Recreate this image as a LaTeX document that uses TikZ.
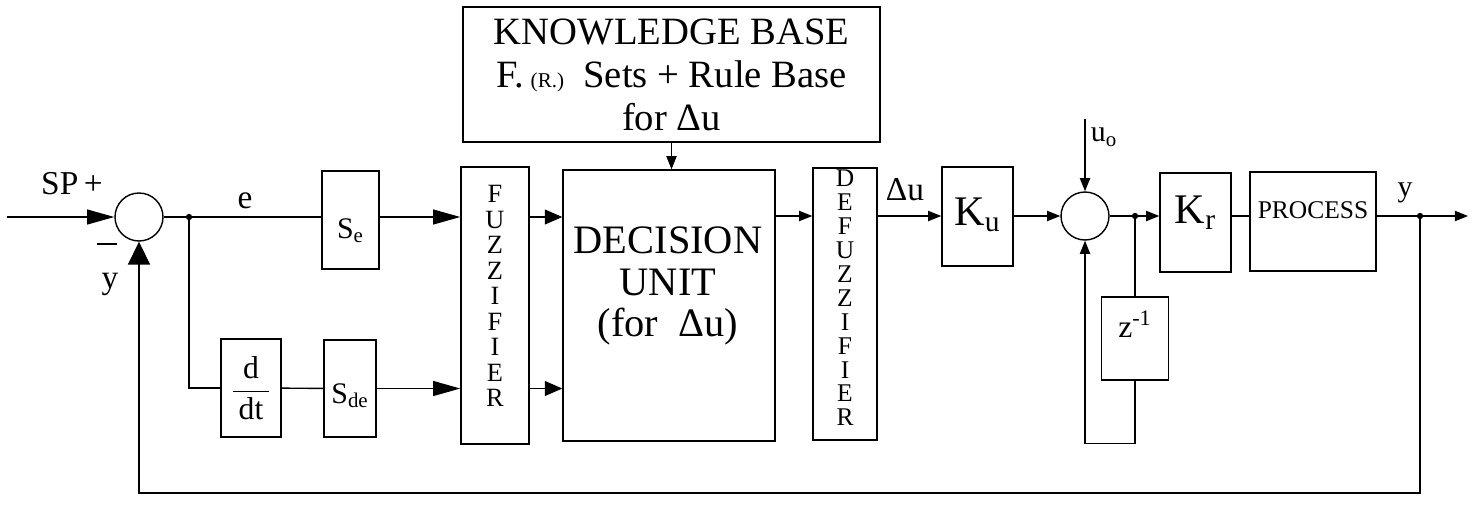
\documentclass[tikz,border=0pt]{standalone}
\usepackage{fontspec}
\setmainfont{Liberation Serif}
\usetikzlibrary{arrows.meta}

\begin{document}
\begin{tikzpicture}[x=0.02cm,y=-0.02cm,line width=0.8pt,
    blk/.style={draw,inner sep=0pt},
    sum/.style={draw,circle,minimum size=0.96cm,inner sep=0pt},
    bigtip/.style={-{Triangle[length=15.5pt,width=8.5pt]}},
    midtip/.style={-{Triangle[length=10pt,width=8.5pt]}},
    tip/.style={-{Triangle[length=7.5pt,width=5.8pt]}},
    fbtip/.style={-{Triangle[length=13pt,width=12.5pt]}},
    lbl/.style={font=\fontsize{19}{19}\selectfont},
    slbl/.style={font=\fontsize{17}{17}\selectfont}]
    \useasboundingbox (0,0) rectangle (1479,504);

    % controller blocks
    \node[sum] (sum1) at (139,217) {};
    \node[blk,minimum width=1.14cm,text height=1.34cm,text depth=0.62cm,font=\fontsize{17}{17}\selectfont] (se) at (350.5,220) {S\textsubscript{e}};
    \node[blk,minimum width=1.2cm,minimum height=1.96cm,font=\fontsize{18}{18}\selectfont] (ddt) at (251,388) {$\displaystyle\frac{\mbox{d}}{\mbox{\,dt\,}}$};
    \node[blk,minimum width=1.04cm,text height=1.26cm,text depth=0.68cm,font=\fontsize{17}{17}\selectfont] (sde) at (350,388.5) {S\textsubscript{de}};

    \node[blk,minimum width=1.36cm,minimum height=5.54cm] (fuzz) at (495,305.5) {};
    \node[font=\fontsize{15}{14.5}\selectfont,align=center] (fuzztxt) at (495,296) {F\\U\\Z\\Z\\I\\F\\I\\E\\R};

    \node[blk,minimum width=4.24cm,minimum height=5.42cm] (dec) at (669,305.5) {};
    \node[font=\fontsize{23}{23.8}\selectfont,align=center] (dectxt) at (668,286) {DECISION\\UNIT\\(for\enspace Δu)};

    \node[blk,minimum width=8.34cm,minimum height=2.7cm,align=center,font=\fontsize{22}{24.5}\selectfont] (kb) at (671.5,74.5)
        {KNOWLEDGE BASE\\F.\,{\fontsize{12}{12}\selectfont(R.)}\ \ Sets + Rule Base\\for Δu};

    \node[blk,minimum width=1.28cm,minimum height=5.44cm] (defuzz) at (845,304) {};
    \node[font=\fontsize{14.5}{13.6}\selectfont,align=center] (defuzztxt) at (845,298) {D\\E\\F\\U\\Z\\Z\\I\\F\\I\\E\\R};

    % plant side
    \node[blk,minimum width=1.42cm,text height=1.16cm,text depth=0.82cm,font=\fontsize{24}{24}\selectfont] (ku) at (977.5,216.5) {K\textsubscript{u}};
    \node[sum] (sum2) at (1085,216) {};
    \node[blk,minimum width=1.34cm,text height=0.8cm,text depth=0.86cm,font=\fontsize{18}{18}\selectfont] (z) at (1135,338.5) {z\textsuperscript{-1}};
    \node[blk,minimum width=1.42cm,text height=1.0cm,text depth=0.98cm,font=\fontsize{24}{24}\selectfont] (kr) at (1195.5,222.5) {K\textsubscript{r}};
    \node[blk,minimum width=2.52cm,text height=0.92cm,text depth=1.06cm,font=\fontsize{14.5}{14.5}\selectfont] (proc) at (1313,221.5) {PROCESS};

    \coordinate (in) at (7,217);
    \coordinate (br) at (189,217);
    \coordinate (u0) at (1085,119);
    \coordinate (tap) at (1135,216);
    \coordinate (ytap) at (1420,216);
    \coordinate (out) at (1468,216);

    % signal lines
    \draw[bigtip] (in) -- (sum1);
    \draw (sum1) -- (se.west |- sum1);
    \draw[bigtip] (se.east |- sum1) -- (fuzz.west |- sum1);
    \draw (br) |- (ddt);
    \draw (ddt) -- (sde);
    \draw[bigtip] (sde) -- (fuzz.west |- sde);
    \draw[midtip] (fuzz.east |- sum1) -- (dec.west |- sum1);
    \draw[midtip] (fuzz.east |- sde) -- (dec.west |- sde);
    \draw[tip] (kb.south) -- (kb.south |- dec.north);
    \draw[tip] (dec.east |- sum2) -- (defuzz.west |- sum2);
    \draw[tip] (defuzz.east |- sum2) -- (ku.west |- sum2);
    \draw[tip] (ku.east |- sum2) -- (sum2);
    \draw[tip] (u0) -- (sum2);
    \draw (sum2) -- (tap);
    \draw[tip] (tap) -- (kr.west |- tap);
    \draw (tap) -- (z);
    \draw[tip] (z.south) -- ++(0,63) -| (sum2);
    \draw (kr.east |- tap) -- (proc.west |- tap);
    \draw[tip] (proc.east |- tap) -- (out);
    \draw[fbtip] (ytap) -- ++(0,277) -| (sum1);

    \fill (br) circle (1.8pt);
    \fill (tap) circle (1.8pt);
    \fill (ytap) circle (1.8pt);

    % labels
    \node[lbl] (splbl) at (72,184) {SP\,+};
    \node[lbl,inner sep=0pt] (minus) at (107,244) {\rule{11pt}{1.6pt}};
    \node[lbl] (ylbl) at (110,284) {y};
    \node[lbl] (elbl) at (245,201) {e};
    \node[lbl] (dulbl) at (905,190) {Δu};
    \node[slbl] (u0lbl) at (1104,137) {u\textsubscript{o}};
    \node[slbl] (youtlbl) at (1405,193) {y};
\end{tikzpicture}
\end{document}
